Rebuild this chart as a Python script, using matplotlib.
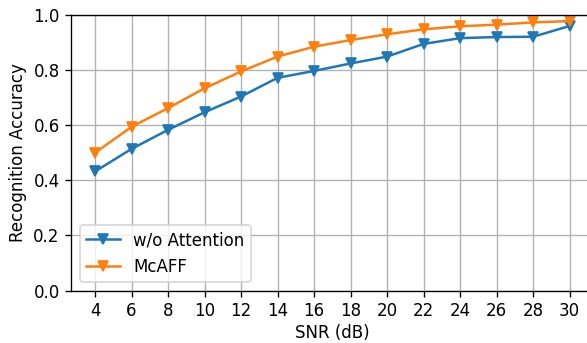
import matplotlib
matplotlib.use("Agg")
import matplotlib.pyplot as plt

snr = [4, 6, 8, 10, 12, 14, 16, 18, 20, 22, 24, 26, 28, 30]
wo_attention = [0.432, 0.514, 0.583, 0.647, 0.704, 0.772, 0.797, 0.824, 0.849, 0.895, 0.916, 0.920, 0.921, 0.960]
mcaff = [0.500, 0.594, 0.662, 0.734, 0.795, 0.849, 0.885, 0.909, 0.930, 0.948, 0.959, 0.965, 0.973, 0.978]

fig = plt.figure(figsize=(587/120, 343/120), dpi=120)
ax = fig.add_axes([71.3/587, 52.5/343, 522/587, 275.5/343])
ax.plot(snr, wo_attention, marker='v', color='#1f77b4', label='w/o Attention')
ax.plot(snr, mcaff, marker='v', color='#ff7f0e', label='McAFF')
ax.set_xticks(snr)
ax.set_ylim(0, 1.0)
ax.set_xlabel('SNR (dB)', labelpad=2)
ax.set_ylabel('Recognition Accuracy')
ax.grid(True)
ax.legend(loc='lower left')
fig.savefig('out.png', dpi=120)
